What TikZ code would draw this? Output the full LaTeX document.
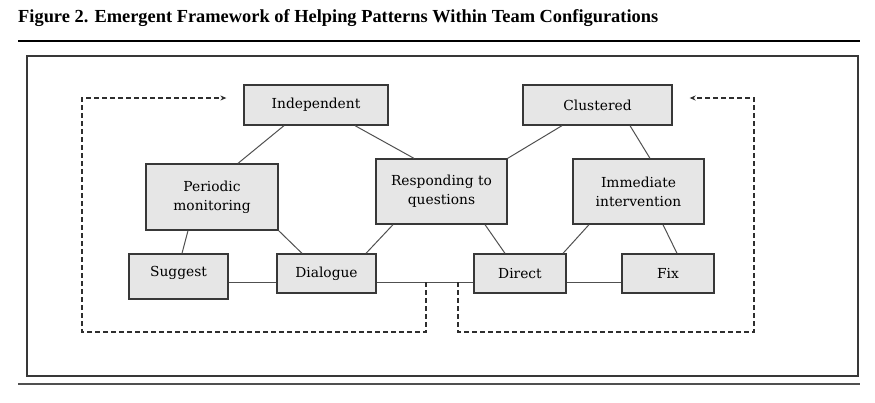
\documentclass[tikz,border=0pt]{standalone}
\usepackage{fontspec}
\setmainfont{DejaVu Serif}
\newfontfamily\titlefont{Liberation Serif}
\usetikzlibrary{arrows.meta}

\definecolor{boxfill}{HTML}{E6E6E6}
\definecolor{boxline}{HTML}{383838}
\definecolor{linkgray}{HTML}{505050}
\definecolor{dashgray}{HTML}{2E2E2E}

\begin{document}
\begin{tikzpicture}[x=1pt,y=-1pt]
\tikzstyle{helpbox}=[draw=boxline, fill=boxfill, line width=1.3pt, inner sep=0pt,
  align=center, font=\fontsize{13.8}{19}\selectfont]
\tikzstyle{link}=[draw=linkgray, line width=1pt]
\tikzstyle{cycleline}=[draw=dashgray, line width=1.2pt, dash pattern=on 5pt off 3pt,
  -{Stealth[length=6pt,width=5pt]}]
\useasboundingbox (0,0) rectangle (875,402);
% title and rules
\node (title) [anchor=base west, inner sep=0pt, font=\titlefont\bfseries\fontsize{18.4}{21}\selectfont]
  at (18,22) {Figure 2. Emergent Framework of Helping Patterns Within Team Configurations};
\draw [line width=2pt] (18,40.5) -- (860,40.5);
\draw [draw=boxline, line width=1.2pt] (27,56) rectangle (858,376);
\draw [draw=linkgray, line width=1.5pt] (18,384) -- (860,384);
% team configurations
\node (indep) [helpbox, minimum width=144pt, minimum height=40pt] at (316,105) {Independent};
\node (clust) [helpbox, minimum width=149pt, minimum height=40pt] at (597.5,105) {Clustered};
% helping behaviours
\node (period) [helpbox, minimum width=132pt, minimum height=66pt] at (212,197) {Periodic\\monitoring};
\node (respond) [helpbox, minimum width=131pt, minimum height=65pt] at (441.5,191.5) {Responding to\\questions};
\node (immed) [helpbox, minimum width=131pt, minimum height=65pt] at (638.5,191.5) {Immediate\\intervention};
% helping patterns
\node (suggest) [helpbox, minimum width=99pt, minimum height=45pt] at (178.5,276.5) {\raisebox{4pt}[\height][\depth]{Suggest}};
\node (dialog) [helpbox, minimum width=99pt, minimum height=39pt] at (326.5,273.5) {Dialogue};
\node (direct) [helpbox, minimum width=92pt, minimum height=39pt] at (520,273.5) {Direct};
\node (fix) [helpbox, minimum width=92pt, minimum height=39pt] at (668,273.5) {Fix};
% links
\draw [link] ([xshift=-32pt]indep.south) -- ([xshift=26pt]period.north);
\draw [link] ([xshift=39pt]indep.south) -- ([xshift=-27.5pt]respond.north);
\draw [link] ([xshift=-35.5pt]clust.south) -- (respond.north east);
\draw [link] ([xshift=32.5pt]clust.south) -- ([xshift=11.5pt]immed.north);
\draw [link] ([xshift=-24pt]period.south) -- ([xshift=3.5pt]suggest.north);
\draw [link] (period.south east) -- ([xshift=-24.5pt]dialog.north);
\draw [link] ([xshift=-48.5pt]respond.south) -- ([xshift=39.5pt]dialog.north);
\draw [link] ([xshift=43.5pt]respond.south) -- ([xshift=-15pt]direct.north);
\draw [link] ([xshift=-49.5pt]immed.south) -- ([xshift=43pt]direct.north);
\draw [link] ([xshift=24.5pt]immed.south) -- ([xshift=9pt]fix.north);
\draw [link] ([yshift=-5.5pt]suggest.east) -- ([yshift=-8.5pt]dialog.west);
\draw [link] ([yshift=-8.5pt]dialog.east) -- ([yshift=-8.5pt]direct.west);
\draw [link] ([yshift=-8.5pt]direct.east) -- ([yshift=-8.5pt]fix.west);
% feedback loops
\coordinate (leftfoot) at (426,282);
\coordinate (rightfoot) at (458,282);
\coordinate (leftend) at ([xshift=-17pt,yshift=7pt]indep.west);
\coordinate (rightend) at ([xshift=17pt,yshift=7pt]clust.east);
\draw [cycleline] (leftfoot) |- (82,332) |- (leftend);
\draw [cycleline] (rightfoot) |- (754,332) |- (rightend);
\end{tikzpicture}
\end{document}
